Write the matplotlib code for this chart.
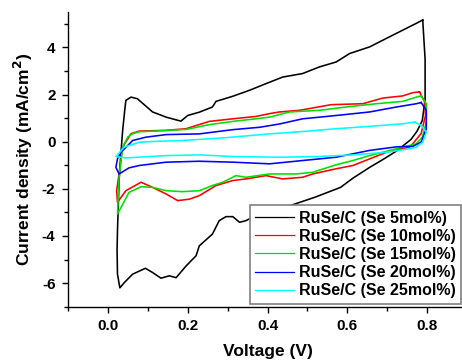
#!/usr/bin/env python3

import matplotlib
matplotlib.use("Agg")
import matplotlib.pyplot as plt
from matplotlib.ticker import MultipleLocator

plt.rcParams["font.family"] = ["Liberation Sans", "DejaVu Sans"]
plt.rcParams["font.weight"] = "bold"

# ------------------------------------------------------------
# CV loops (voltage V, current density mA/cm2)
# each loop: right vertex -> cathodic branch -> left vertex -> anodic branch
# ------------------------------------------------------------
v_se5 = [0.789, 0.795, 0.795, 0.788, 0.775, 0.760, 0.723, 0.690, 0.656, 0.614,
         0.583, 0.520, 0.450, 0.380, 0.346, 0.330, 0.313, 0.296, 0.279, 0.262,
         0.229, 0.221, 0.196, 0.171, 0.154, 0.133, 0.112, 0.094, 0.062, 0.041,
         0.030, 0.024, 0.023, 0.024, 0.028, 0.033, 0.037, 0.042, 0.045, 0.058,
         0.074, 0.112, 0.146, 0.183, 0.200, 0.229, 0.262, 0.271, 0.312, 0.355,
         0.396, 0.438, 0.488, 0.530, 0.572, 0.606, 0.656, 0.698, 0.739, 0.773,
         0.789]
j_se5 = [5.16, 3.50, 1.80, 0.90, 0.45, 0.10, -0.40, -0.75, -1.09, -1.55,
         -1.94, -2.35, -2.75, -3.05, -3.35, -3.42, -3.18, -3.18, -3.35, -3.92,
         -4.42, -4.84, -5.27, -5.77, -5.69, -5.79, -5.55, -5.37, -5.62, -5.98,
         -6.20, -5.62, -4.60, -3.78, -1.65, -0.40, 0.48, 1.30, 1.75, 1.89,
         1.82, 1.26, 1.04, 0.87, 1.11, 1.25, 1.47, 1.71, 1.92, 2.18,
         2.46, 2.74, 2.89, 3.17, 3.38, 3.74, 4.02, 4.38, 4.73, 5.02,
         5.16]

v_se10 = [0.781, 0.794, 0.796, 0.785, 0.764, 0.756, 0.698, 0.656, 0.614, 0.572,
          0.513, 0.488, 0.438, 0.396, 0.346, 0.313, 0.271, 0.229, 0.204, 0.175,
          0.146, 0.112, 0.083, 0.045, 0.024, 0.022, 0.030, 0.037, 0.058, 0.079,
          0.146, 0.196, 0.254, 0.313, 0.371, 0.405, 0.430, 0.480, 0.560, 0.639,
          0.689, 0.739, 0.764, 0.781]
j_se10 = [2.11, 1.68, 1.11, 0.34, -0.09, -0.23, -0.45, -0.73, -1.01, -1.15,
          -1.37, -1.51, -1.58, -1.44, -1.58, -1.65, -1.86, -2.29, -2.44, -2.50,
          -2.22, -1.94, -1.72, -2.08, -2.57, -2.08, -1.10, -0.23, 0.34, 0.45,
          0.48, 0.55, 0.86, 0.97, 1.07, 1.19, 1.26, 1.33, 1.57, 1.61,
          1.85, 1.94, 2.08, 2.11]

v_se15 = [0.785, 0.798, 0.798, 0.788, 0.773, 0.739, 0.656, 0.614, 0.572, 0.513,
          0.472, 0.422, 0.405, 0.346, 0.321, 0.288, 0.262, 0.229, 0.187, 0.146,
          0.112, 0.083, 0.053, 0.024, 0.028, 0.037, 0.050, 0.062, 0.079, 0.146,
          0.196, 0.254, 0.313, 0.371, 0.405, 0.455, 0.530, 0.597, 0.673, 0.739,
          0.773, 0.785]
j_se15 = [1.94, 1.61, 0.83, 0.19, -0.09, -0.23, -0.59, -0.80, -0.98, -1.30,
          -1.37, -1.37, -1.37, -1.51, -1.44, -1.72, -1.86, -2.08, -2.12, -2.08,
          -1.94, -1.91, -2.15, -3.07, -1.51, -0.23, 0.20, 0.34, 0.42, 0.47,
          0.52, 0.72, 0.86, 0.97, 1.04, 1.26, 1.33, 1.47, 1.61, 1.71,
          1.89, 1.94]

v_se20 = [0.785, 0.798, 0.798, 0.785, 0.764, 0.723, 0.656, 0.572, 0.488, 0.405,
          0.313, 0.229, 0.146, 0.079, 0.053, 0.028, 0.020, 0.024, 0.033, 0.062,
          0.095, 0.146, 0.229, 0.313, 0.380, 0.430, 0.488, 0.572, 0.656, 0.723,
          0.773, 0.785]
j_se20 = [1.66, 1.33, 0.54, -0.02, -0.20, -0.22, -0.37, -0.66, -0.80, -0.94,
          -0.87, -0.83, -0.87, -1.01, -1.11, -1.37, -1.09, -0.73, -0.45, 0.05,
          0.19, 0.30, 0.33, 0.51, 0.61, 0.75, 0.97, 1.11, 1.26, 1.47,
          1.61, 1.66]

v_se25 = [0.769, 0.785, 0.798, 0.789, 0.773, 0.756, 0.698, 0.614, 0.530, 0.430,
          0.313, 0.229, 0.146, 0.104, 0.045, 0.020, 0.041, 0.079, 0.129, 0.187,
          0.296, 0.405, 0.488, 0.572, 0.656, 0.739, 0.769]
j_se25 = [0.83, 0.69, 0.40, -0.02, -0.23, -0.30, -0.45, -0.56, -0.63, -0.66,
          -0.63, -0.56, -0.59, -0.63, -0.69, -0.63, -0.23, -0.02, 0.02, 0.05,
          0.17, 0.33, 0.43, 0.55, 0.65, 0.76, 0.83]

labels = ["RuSe/C (Se 5mol%)", "RuSe/C (Se 10mol%)", "RuSe/C (Se 15mol%)",
          "RuSe/C (Se 20mol%)", "RuSe/C (Se 25mol%)"]
colors = ["black", "#ff0000", "#00e000", "#0000ff", "#00ffff"]

x_ticks = [0.0, 0.2, 0.4, 0.6, 0.8]
y_ticks = [-6, -4, -2, 0, 2, 4]

series = [(v_se5, j_se5), (v_se10, j_se10), (v_se15, j_se15),
          (v_se20, j_se20), (v_se25, j_se25)]

# ------------------------------------------------------------
# plot
# ------------------------------------------------------------
fig = plt.figure(figsize=(4.62, 3.61), dpi=100)
ax = fig.add_axes([68 / 462, (361 - 306.7) / 361, 399 / 462, 294.7 / 361])

for (v, j), lab, c in zip(series, labels, colors):
    ax.plot(v, j, color=c, lw=1.15, label=lab)

ax.set_xlim(-0.1, 0.9)
ax.set_ylim(-7, 5.5)
ax.xaxis.set_minor_locator(MultipleLocator(0.1))
ax.yaxis.set_minor_locator(MultipleLocator(1))
ax.set_xticks(x_ticks)
ax.set_xticklabels([f"{t:.1f}" for t in x_ticks], fontweight="bold", fontsize=11)
ax.set_yticks(y_ticks)
ax.set_yticklabels([str(t) for t in y_ticks], fontweight="bold", fontsize=11)

ax.spines["top"].set_visible(False)
ax.spines["right"].set_visible(False)
for s in ["left", "bottom"]:
    ax.spines[s].set_linewidth(1.0)

ax.tick_params(which="major", direction="out", length=4, width=1.0, pad=5)
ax.tick_params(which="minor", direction="out", length=3, width=1.0)

ax.set_xlabel("Voltage (V)", fontsize=12.5, fontweight="bold", labelpad=8)
ax.set_ylabel("Current density (mA/cm$^\\mathbf{2}$)", fontsize=12.5,
              fontweight="bold", labelpad=5)

leg = ax.legend(loc="lower right", bbox_to_anchor=(0.985, 0.009),
                borderaxespad=0, prop={"weight": "bold", "size": 11.5},
                fancybox=False, framealpha=1, edgecolor="#808080",
                handlelength=2.4, handletextpad=0.3, labelspacing=0.2,
                borderpad=0.35)
leg.get_frame().set_linewidth(1.2)
for line in leg.get_lines():
    line.set_linewidth(0.9)

plt.savefig("out.png", dpi=100)
plt.close()
